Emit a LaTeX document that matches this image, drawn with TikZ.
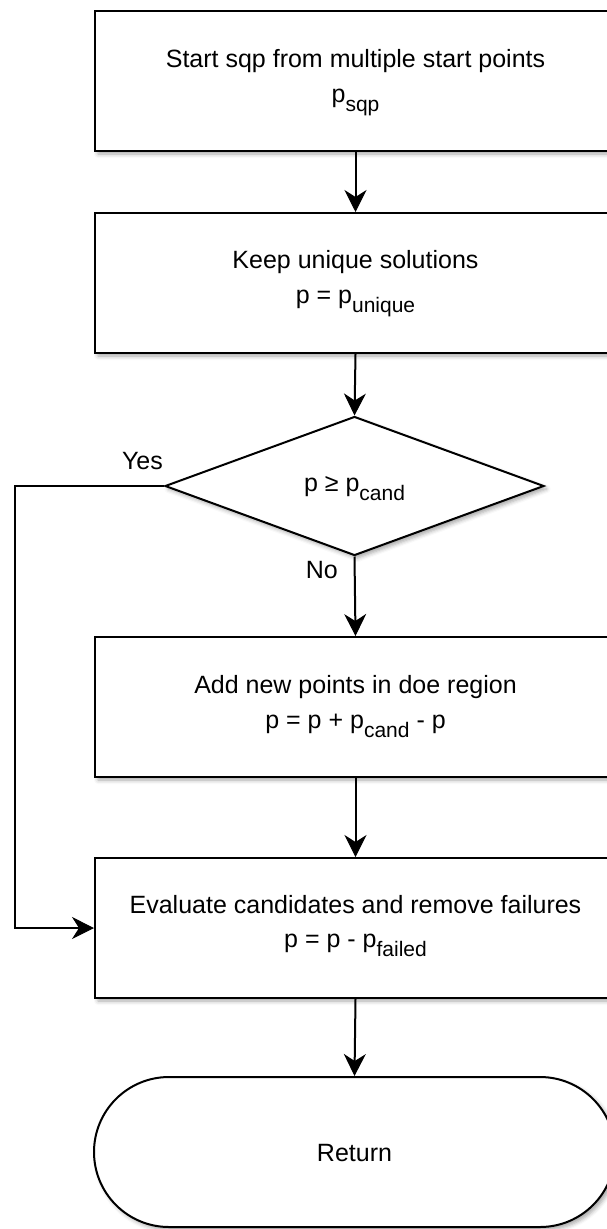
\documentclass[tikz,border=0pt]{standalone}
\usepackage{fontspec}
\setmainfont{Liberation Sans}
\usetikzlibrary{shapes.geometric,shapes.misc,shadows.blur,arrows.meta,calc}

% lowered, smaller subscript text
\newcommand{\lowsub}[1]{\raisebox{-9pt}{\fontsize{21}{21}\selectfont #1}}

\begin{document}
\begin{tikzpicture}[x=1pt,y=-1pt,
  every node/.style={font=\fontsize{25}{30}\selectfont, text=black},
  softshadow/.style={blur shadow={shadow xshift=3pt, shadow yshift=-3pt,
      shadow blur radius=4pt, shadow opacity=35}},
  procbox/.style={draw, line width=2pt, fill=white, minimum width=521pt,
      minimum height=140pt, inner sep=0pt, anchor=north west, softshadow},
  decbox/.style={diamond, draw, line width=2pt, fill=white, minimum width=379pt,
      minimum height=139pt, inner sep=0pt, softshadow},
  termbox/.style={rounded rectangle, draw, line width=2pt, fill=white,
      minimum width=521pt, minimum height=150pt, inner sep=0pt, softshadow},
  txt/.style={anchor=base, inner sep=0pt},
  flow/.style={line width=2pt,
      -{Stealth[length=22pt,width=22pt,inset=7pt,line width=1pt,fill=black]}}
]
\useasboundingbox (0,0) rectangle (607,1229);

% process steps
\node[procbox] (start)  at (94,10)  {};
\node[procbox] (unique) at (94,212) {};
\node[decbox]  (check)  at (354.5,486) {};
\node[procbox] (add)    at (94,636) {};
\node[procbox] (eval)   at (94,857) {};
\node[termbox] (ret)    at (354.5,1152) {};

% texts
\node[txt] (startA) at ($(start.north)+(0,57)$) {Start sqp from multiple start points};
\node[txt] (startB) at ($(start.north)+(0,92)$) {p\lowsub{sqp}};
\node[txt] (uniqA) at ($(unique.north)+(0,56)$) {Keep unique solutions};
\node[txt] (uniqB) at ($(unique.north)+(0,91)$) {p = p\lowsub{unique}};
\node[txt] (checkA) at ($(check.center)+(0,5)$) {p ≥ p\lowsub{cand}};
\node[txt] (addA) at ($(add.north)+(0,57)$) {Add new points in doe region};
\node[txt] (addB) at ($(add.north)+(0,92)$) {p = p + p\lowsub{cand} - p};
\node[txt] (evalA) at ($(eval.north)+(0,56)$) {Evaluate candidates and remove failures};
\node[txt] (evalB) at ($(eval.north)+(0,90)$) {p = p - p\lowsub{failed}};
\node[txt] (retA) at ($(ret.center)+(0,9)$) {Return};

% branch labels
\node[anchor=base east, inner sep=0pt] (yes) at (163,469) {Yes};
\node[anchor=base east, inner sep=0pt] (no)  at (338,578) {No};

% connectors
\coordinate (yesbend) at (15,486);
\draw[flow] (start.south) -- (unique.north);
\draw[flow] (unique.south) -- (check.north);
\draw[flow] (check.south) -- (add.north);
\draw[flow] (check.west) -- (yesbend) |- (eval.west);
\draw[flow] (add.south) -- (eval.north);
\draw[flow] (eval.south) -- (ret.north);
\end{tikzpicture}
\end{document}
